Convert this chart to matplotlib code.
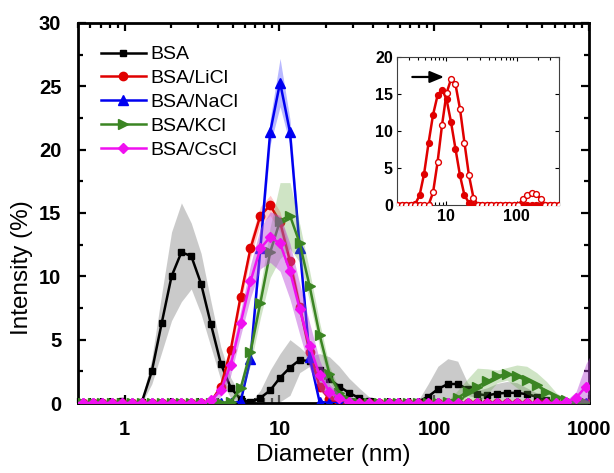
import matplotlib
matplotlib.use("Agg")
import matplotlib.pyplot as plt
from matplotlib.ticker import AutoMinorLocator, LogLocator, NullFormatter, FixedLocator
import numpy as np

plt.rcParams['font.family'] = ['Liberation Sans', 'DejaVu Sans']

# DLS size classes (nm)
sizes = [0.4, 0.4632, 0.5365, 0.6213, 0.7195, 0.8332, 0.9649, 1.117, 1.294, 1.499, 1.736,
         2.01, 2.328, 2.696, 3.122, 3.615, 4.187, 4.849, 5.615, 6.503, 7.531, 8.721,
         10.1, 11.7, 13.54, 15.69, 18.17, 21.04, 24.36, 28.21, 32.67, 37.84, 43.82,
         50.75, 58.77, 68.06, 78.82, 91.28, 105.7, 122.4, 141.8, 164.2, 190.1, 220.2,
         255.0, 295.3, 342.0, 396.1, 458.7, 531.2, 615.1, 712.4, 825.0, 955.4, 1106]

# intensity (%) per size class, 55 values each
bsa = [0, 0, 0, 0, 0, 0, 0.15, 0, 0.1, 2.5, 6.3,
       10.0, 11.9, 11.6, 9.4, 6.2, 3.1, 1.2, 0.3, 0.05, 0.4, 1.0,
       2.0, 2.8, 3.4, 3.3, 2.6, 1.9, 1.3, 0.8, 0.4, 0.15, 0,
       0, 0, 0, 0.1, 0.5, 1.1, 1.5, 1.5, 1.1, 0.7, 0.6,
       0.75, 0.8, 0.8, 0.7, 0.5, 0.25, 0.05, 0, 0, 0, 0]
bsa_err = [0, 0, 0, 0, 0, 0, 0, 0, 0.2, 1.0, 2.3,
           3.5, 3.9, 2.6, 2.4, 1.8, 1.3, 0.8, 0.3, 0, 0.6, 1.6,
           1.9, 2.2, 1.0, 0.4, 1.3, 1.75, 1.6, 1.15, 0.8, 0.35, 0,
           0, 0, 0, 0.1, 1.0, 1.8, 2.0, 1.8, 0.5, 0.3, 0.6,
           0.8, 0.9, 0.8, 0.5, 0.3, 0.2, 0, 0, 0, 0, 0]

licl = [0, 0, 0, 0, 0, 0, 0, 0, 0, 0, 0,
        0, 0, 0, 0, 0.1, 1.3, 4.2, 8.4, 12.2, 14.8, 15.6,
        14.3, 11.2, 7.6, 4.0, 1.3, 0.3, 0, 0, 0, 0, 0,
        0, 0, 0, 0, 0, 0, 0, 0, 0, 0, 0,
        0, 0, 0, 0, 0, 0, 0, 0, 0, 0, 0]
licl_err = [0, 0, 0, 0, 0, 0, 0, 0, 0, 0, 0,
            0, 0, 0, 0, 0, 0.3, 0.5, 0.6, 0.7, 0.7, 0.8,
            0.8, 0.7, 0.6, 0.5, 0.3, 0.1, 0, 0, 0, 0, 0,
            0, 0, 0, 0, 0, 0, 0, 0, 0, 0, 0,
            0, 0, 0, 0, 0, 0, 0, 0, 0, 0, 0]

nacl = [0, 0, 0, 0, 0, 0, 0, 0, 0, 0, 0,
        0, 0, 0, 0, 0, 0, 0, 0.1, 3.5, 12.2, 21.4,
        25.3, 21.4, 12.2, 3.6, 0.1, 0, 0, 0, 0, 0, 0,
        0, 0, 0, 0, 0, 0, 0, 0, 0, 0, 0,
        0, 0, 0, 0, 0, 0, 0, 0, 0, 0, 0]
nacl_err = [0, 0, 0, 0, 0, 0, 0, 0, 0, 0, 0,
            0, 0, 0, 0, 0, 0, 0, 0, 0.4, 0.8, 1.0,
            1.9, 1.0, 0.8, 0.4, 0, 0, 0, 0, 0, 0, 0,
            0, 0, 0, 0, 0, 0, 0, 0, 0, 0, 0,
            0, 0, 0, 0, 0, 0, 0, 0, 0, 0, 0]

kcl = [0, 0, 0, 0, 0, 0, 0, 0, 0, 0, 0,
       0, 0, 0, 0, 0, 0, 0.1, 1.15, 4.0, 7.9, 11.9,
       14.4, 14.8, 12.6, 9.2, 5.4, 2.3, 0.8, 0.2, 0, 0, 0,
       0, 0, 0, 0, 0, 0, 0.1, 0.4, 0.9, 1.3, 1.7,
       2.1, 2.3, 2.1, 1.8, 1.4, 0.9, 0.5, 0.2, 0, 0, 0]
kcl_err = [0, 0, 0, 0, 0, 0, 0, 0, 0, 0, 0,
           0, 0, 0, 0, 0, 0, 0, 0.5, 1.0, 1.2, 2.0,
           3.0, 2.6, 1.5, 1.2, 1.0, 0.6, 0.3, 0, 0, 0, 0,
           0, 0, 0, 0, 0, 0, 0.1, 0.6, 1.0, 1.45, 1.0,
           0.5, 0.5, 0.9, 1.1, 1.0, 0.8, 0.3, 0.1, 0, 0, 0]

cscl = [0, 0, 0, 0, 0, 0, 0, 0, 0, 0, 0,
        0, 0, 0, 0, 0.2, 1.0, 3.0, 6.3, 9.6, 12.2, 13.1,
        12.6, 10.4, 7.4, 4.5, 2.2, 0.9, 0.4, 0.1, 0, 0, 0,
        0, 0, 0, 0, 0, 0, 0, 0, 0, 0, 0,
        0, 0, 0, 0, 0, 0, 0, 0.1, 0.4, 1.3, 2.0]
cscl_err = [0, 0, 0, 0, 0, 0, 0, 0, 0, 0, 0,
            0, 0, 0, 0, 0.1, 0.5, 0.8, 1.0, 1.3, 1.6, 2.0,
            2.2, 2.2, 2.0, 1.8, 1.2, 0.6, 0.3, 0, 0, 0, 0,
            0, 0, 0, 0, 0, 0, 0, 0, 0, 0, 0,
            0, 0, 0, 0, 0, 0, 0, 0.1, 0.5, 1.8, 2.5]

# inset: BSA/LiCl, filled vs open symbols
licl_open = [0, 0, 0, 0, 0, 0, 0, 0, 0, 0, 0,
             0, 0, 0, 0, 0, 0, 0, 0, 1.7, 5.75, 10.8,
             15.1, 17.0, 16.3, 13.0, 8.4, 4.0, 1.0, 0, 0, 0, 0,
             0, 0, 0, 0, 0, 0, 0.8, 1.35, 1.65, 1.45, 0.8,
             0, 0, 0, 0, 0, 0, 0, 0, 0, 0, 0]

series = [
    ("BSA", bsa, bsa_err, "black", "s", 5, "#a0a0a0", 0.55),
    ("BSA/LiCl", licl, licl_err, "#e00000", "o", 6, "#ff5050", 0.3),
    ("BSA/NaCl", nacl, nacl_err, "#0000f0", "^", 6.5, "#5050ff", 0.4),
    ("BSA/KCl", kcl, kcl_err, "#3b8523", ">", 6.5, "#60a840", 0.3),
    ("BSA/CsCl", cscl, cscl_err, "#f010f0", "D", 5, "#b848d8", 0.45),
]

fig = plt.figure(figsize=(6.14, 4.73), dpi=100)
ax = fig.add_axes([78 / 614, 70 / 473, 511 / 614, 380 / 473])

x = np.array(sizes)
z = 2
for name, y, err, col, mk, ms, bandcol, alpha in series:
    y = np.array(y)
    e = np.array(err)
    ax.fill_between(x, np.clip(y - e, 0, None), y + e, color=bandcol, alpha=alpha,
                    lw=0, zorder=z)
    ax.plot(x, y, color=col, marker=mk, markersize=ms, lw=1.8, label=name, zorder=z + 1)
    z += 2

ax.set_xscale("log")
ax.set_xlim(0.5, 1000)
ax.set_ylim(0, 30)
ax.xaxis.set_major_locator(FixedLocator([1, 10, 100, 1000]))
ax.set_xticklabels(["1", "10", "100", "1000"])
ax.xaxis.set_minor_locator(LogLocator(base=10, subs=np.arange(2, 10), numticks=20))
ax.xaxis.set_minor_formatter(NullFormatter())
ax.set_yticks([0, 5, 10, 15, 20, 25, 30])
ax.yaxis.set_minor_locator(AutoMinorLocator(2))
ax.tick_params(which="both", direction="in", top=True, right=True, width=1.6)
ax.tick_params(which="major", length=6, labelsize=14.5)
ax.tick_params(axis="y", which="major", pad=12)
ax.tick_params(axis="x", which="major", pad=12)
ax.tick_params(which="minor", length=3.5)
for lab in ax.get_xticklabels() + ax.get_yticklabels():
    lab.set_fontweight("bold")
for sp in ax.spines.values():
    sp.set_linewidth(2)

ax.set_xlabel("Diameter (nm)", fontsize=17.5, labelpad=4)
ax.set_ylabel("Intensity (%)", fontsize=17.5)
ax.yaxis.set_label_coords(-0.088, 0.355)

ax.legend(loc="upper left", bbox_to_anchor=(0.045, 0.94), frameon=False, fontsize=14,
          handlelength=2.3, handletextpad=0.25, labelspacing=0.32, borderpad=0,
          borderaxespad=0)

# inset
ax_in = fig.add_axes([397 / 614, 268 / 473, 162 / 614, 148 / 473])
ax_in.plot(x, licl, color="#e00000", marker="o", markersize=4.2, lw=1.8, zorder=3)
ax_in.plot(x, licl_open, color="#e00000", marker="o", markersize=4.2, lw=1.8,
           markerfacecolor="white", zorder=4)
ax_in.annotate("", xy=(9.3, 17.3), xytext=(3.3, 17.3),
               arrowprops=dict(arrowstyle="-|>,head_length=0.6,head_width=0.25",
                               color="black", lw=1.6, shrinkA=0, shrinkB=0,
                               mutation_scale=14))
ax_in.set_xscale("log")
ax_in.set_xlim(2.0, 400)
ax_in.set_ylim(0, 20)
ax_in.xaxis.set_major_locator(FixedLocator([10, 100]))
ax_in.set_xticklabels(["10", "100"])
ax_in.xaxis.set_minor_locator(LogLocator(base=10, subs=np.arange(2, 10), numticks=20))
ax_in.xaxis.set_minor_formatter(NullFormatter())
ax_in.set_yticks([0, 5, 10, 15, 20])
ax_in.tick_params(which="both", direction="in", top=True, right=True, width=0.8)
ax_in.tick_params(which="major", length=3, labelsize=11.5, pad=3)
ax_in.tick_params(which="minor", length=2)
for lab in ax_in.get_xticklabels() + ax_in.get_yticklabels():
    lab.set_fontweight("bold")
for sp in ax_in.spines.values():
    sp.set_linewidth(0.8)
    sp.set_color("#404040")

fig.savefig("out.png", dpi=100)
